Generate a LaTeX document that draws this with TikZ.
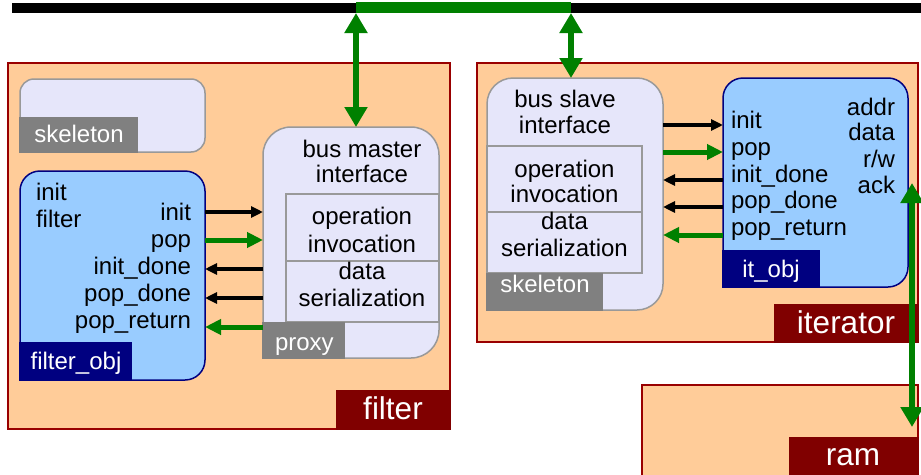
\documentclass[tikz,border=0pt]{standalone}
\usepackage{fontspec}
\setmainfont{Liberation Sans}
\usetikzlibrary{arrows.meta}
\definecolor{peach}{HTML}{FFCC99}
\definecolor{compedge}{HTML}{990000}
\definecolor{complab}{HTML}{800000}
\definecolor{stubfill}{HTML}{E6E6FA}
\definecolor{stublab}{HTML}{808080}
\definecolor{stubedge}{HTML}{999999}
\definecolor{objfill}{HTML}{99CCFF}
\definecolor{objedge}{HTML}{000080}
\definecolor{busgreen}{HTML}{008000}
\tikzset{
  component/.style={draw=compedge, fill=peach, line width=1.5pt, rectangle,
    inner sep=0pt, outer sep=0pt, anchor=north west},
  stub/.style={draw=stubedge, fill=stubfill, line width=1.5pt, rectangle,
    rounded corners=#1, inner sep=0pt, outer sep=0pt, anchor=north west},
  stubpart/.style={draw=stubedge, fill=stubfill, line width=1.5pt, rectangle,
    inner sep=0pt, outer sep=0pt, anchor=north west},
  obj/.style={draw=objedge, fill=objfill, line width=1.5pt, rectangle,
    rounded corners=20pt, inner sep=0pt, outer sep=0pt, anchor=north west},
  txt/.style={font=\fontsize{24}{27}\selectfont, inner sep=0pt, outer sep=0pt},
  lbltxt/.style={txt, text=white},
  bigtxt/.style={font=\fontsize{31.5}{36}\selectfont, text=white, inner sep=0pt, outer sep=0pt},
  sigline/.style={draw=black, line width=3.5pt, -{Triangle[length=12pt,width=11pt]}},
  datasig/.style={draw=busgreen, line width=5pt, -{Triangle[length=16pt,width=15pt]}},
  busarrow/.style={draw=busgreen, line width=6pt,
    {Triangle[length=20pt,width=22pt]}-{Triangle[length=20pt,width=22pt]}}
}
\begin{document}
\begin{tikzpicture}[x=1pt,y=-1pt]
\useasboundingbox (0,0) rectangle (921,474);

% system bus
\draw[line width=9.5pt] (12,8) -- (921,8);
\draw[busgreen, line width=11pt] (356,7.5) -- (571,7.5);

% ---------------- filter component ----------------
\node[component, minimum width=442pt, minimum height=366pt] (filter) at (8,63) {};
\fill[complab] (336,390) rectangle (450.75,429.75);
\node[bigtxt, anchor=base] (filtername) at (393,419) {filter};

% unused skeleton
\node[stub=14pt, minimum width=185pt, minimum height=73pt] (fskel) at (20,79) {};
\fill[stublab] (19.25,117) rectangle (138,152.75);
\node[lbltxt, anchor=base] (fskelname) at (79,142) {skeleton};

% filter object
\node[obj, minimum width=185pt, minimum height=209pt] (fobj) at (20,171) {};
\fill[objedge] (19.25,342) rectangle (132,380.75);
\node[lbltxt, anchor=base] (fobjname) at (76,369) {filter\_obj};
\node[txt, anchor=base west] (fm1) at (36,200) {init};
\node[txt, anchor=base west] (fm2) at (36,227) {filter};
\node[txt, anchor=base east] (fp1) at (191,220) {init};
\node[txt, anchor=base east] (fp2) at (191,247) {pop};
\node[txt, anchor=base east] (fp3) at (191,274) {init\_done};
\node[txt, anchor=base east] (fp4) at (191,301) {pop\_done};
\node[txt, anchor=base east] (fp5) at (191,328) {pop\_return};

% proxy
\node[stub=28pt, minimum width=176pt, minimum height=231pt] (proxy) at (263,127) {};
\node[stubpart, minimum width=153pt, minimum height=67pt] (pinvoke) at (286,194) {};
\node[stubpart, minimum width=153pt, minimum height=61pt] (pserial) at (286,261) {};
\fill[stublab] (262.25,322) rectangle (345,358.75);
\node[lbltxt, anchor=base west] (proxyname) at (275,350) {proxy};
\node[txt, anchor=base] (pt1) at (362,157) {bus master};
\node[txt, anchor=base] (pt2) at (362,182) {interface};
\node[txt, anchor=base] (pt3) at (362,224) {operation};
\node[txt, anchor=base] (pt4) at (362,252) {invocation};
\node[txt, anchor=base] (pt5) at (362,279) {data};
\node[txt, anchor=base] (pt6) at (362,306) {serialization};

% filter object <-> proxy signals
\draw[sigline] (fobj.east |- 0,212) -- (proxy.west |- 0,212);
\draw[datasig] (fobj.east |- 0,240) -- (proxy.west |- 0,240);
\draw[sigline] (proxy.west |- 0,269) -- (fobj.east |- 0,269);
\draw[sigline] (proxy.west |- 0,298) -- (fobj.east |- 0,298);
\draw[datasig] (proxy.west |- 0,327) -- (fobj.east |- 0,327);

% ---------------- iterator component ----------------
\node[component, minimum width=441pt, minimum height=279pt] (iterator) at (477,63) {};
\fill[complab] (774,304) rectangle (918.75,342.75);
\node[bigtxt, anchor=base] (itername) at (846,333) {iterator};

% skeleton
\node[stub=26pt, minimum width=176pt, minimum height=232pt] (bslave) at (487,78) {};
\node[stubpart, minimum width=155pt, minimum height=66pt] (sinvoke) at (487,146) {};
\node[stubpart, minimum width=155pt, minimum height=61pt] (sserial) at (487,212) {};
\fill[stublab] (486.25,273) rectangle (603,310.75);
\node[lbltxt, anchor=base] (bslavename) at (545,292) {skeleton};
\node[txt, anchor=base] (st1) at (565,107) {bus slave};
\node[txt, anchor=base] (st2) at (565,133) {interface};
\node[txt, anchor=base] (st3) at (564.5,177) {operation};
\node[txt, anchor=base] (st4) at (564.5,202) {invocation};
\node[txt, anchor=base] (st5) at (564.5,229) {data};
\node[txt, anchor=base] (st6) at (564.5,256) {serialization};

% iterator object
\node[obj, minimum width=185pt, minimum height=209pt] (itobj) at (723,78) {};
\fill[objedge] (722.25,250) rectangle (820,287.75);
\node[lbltxt, anchor=base] (itobjname) at (771,277) {it\_obj};
\node[txt, anchor=base west] (ip1) at (731,128) {init};
\node[txt, anchor=base west] (ip2) at (731,155) {pop};
\node[txt, anchor=base west] (ip3) at (731,182) {init\_done};
\node[txt, anchor=base west] (ip4) at (731,208) {pop\_done};
\node[txt, anchor=base west] (ip5) at (731,235) {pop\_return};
\node[txt, anchor=base east] (im1) at (895,115) {addr};
\node[txt, anchor=base east] (im2) at (895,140) {data};
\node[txt, anchor=base east] (im3) at (895,167) {r/w};
\node[txt, anchor=base east] (im4) at (895,193) {ack};

% skeleton <-> iterator object signals
\draw[sigline] (bslave.east |- 0,125) -- (itobj.west |- 0,125);
\draw[datasig] (bslave.east |- 0,152) -- (itobj.west |- 0,152);
\draw[sigline] (itobj.west |- 0,180) -- (bslave.east |- 0,180);
\draw[sigline] (itobj.west |- 0,207) -- (bslave.east |- 0,207);
\draw[datasig] (itobj.west |- 0,235) -- (bslave.east |- 0,235);

% ---------------- ram component ----------------
\node[component, minimum width=276pt, minimum height=100pt] (ram) at (642,385) {};
\fill[complab] (789,437) rectangle (918.75,480);
\node[bigtxt, anchor=base] (ramname) at (853,465) {ram};

% bus taps
\coordinate (mtap) at (356,13);
\coordinate (stap) at (571,13);
\draw[busarrow] (mtap) -- (mtap |- proxy.north);
\draw[busarrow] (stap) -- (stap |- bslave.north);

% memory port
\coordinate (memport) at (912,183);
\coordinate (ramport) at (912,427);
\draw[busarrow, line width=6.5pt] (memport) -- (ramport);
\end{tikzpicture}
\end{document}
